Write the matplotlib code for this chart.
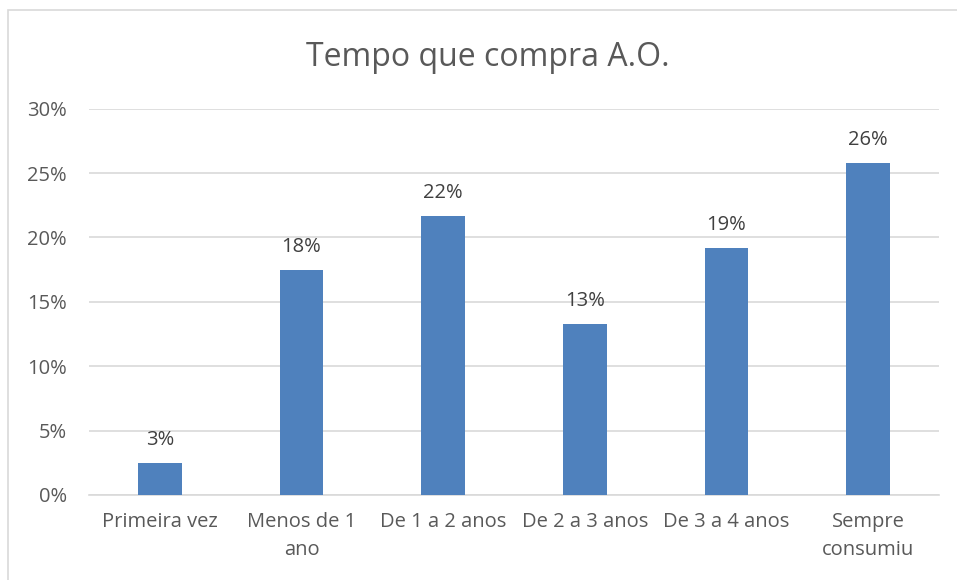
import numpy as np
import matplotlib.pyplot as plt
from matplotlib.patches import Rectangle
from matplotlib.ticker import PercentFormatter

categories = ["Primeira vez", "Menos de 1\nano", "De 1 a 2 anos", "De 2 a 3 anos",
              "De 3 a 4 anos", "Sempre\nconsumiu"]
values = [0.0252, 0.175, 0.217, 0.133, 0.192, 0.258]
yticks = [0, 0.05, 0.10, 0.15, 0.20, 0.25, 0.30]

plt.rcParams['font.family'] = ['Open Sans', 'DejaVu Sans']

fig = plt.figure(figsize=(9.57, 5.8), dpi=100)
fig.patches.append(Rectangle((8 / 957, -0.1), 1.2, (580 - 10) / 580 + 0.1,
                             transform=fig.transFigure, fill=False,
                             edgecolor='#d9d9d9', linewidth=1.2))

ax = fig.add_axes([89 / 957, 85 / 580, 850 / 957, 386.3 / 580])
x = np.arange(len(categories))
bars = ax.bar(x, values, width=0.31, color='#4f81bd', zorder=3)

for xi, v in zip(x, values):
    ax.annotate(f"{round(v * 100)}%", (xi, v), xytext=(0, 9), textcoords='offset points',
                ha='center', va='bottom', fontsize=14.5, color='#404040')

ax.set_xlim(-0.5, len(categories) - 0.5)
ax.set_ylim(0, 0.30)
ax.set_yticks(yticks)
ax.yaxis.set_major_formatter(PercentFormatter(1.0, decimals=0))
ax.set_xticks(x)
ax.set_xticklabels(categories, linespacing=1.55)
ax.tick_params(axis='both', length=0, labelsize=14.5, labelcolor='#595959')
ax.tick_params(axis='y', pad=16)
ax.tick_params(axis='x', pad=12)
ax.grid(axis='y', color='#d9d9d9', linewidth=1.2, zorder=0)
for s in ['top', 'right', 'left']:
    ax.spines[s].set_visible(False)
ax.spines['bottom'].set_color('#d9d9d9')
ax.spines['bottom'].set_linewidth(1.2)

fig.text(0.51, (580 - 57) / 580, "Tempo que compra A.O.", ha='center', va='center',
         fontsize=23, color='#595959')

fig.savefig("out.png", dpi=100)
